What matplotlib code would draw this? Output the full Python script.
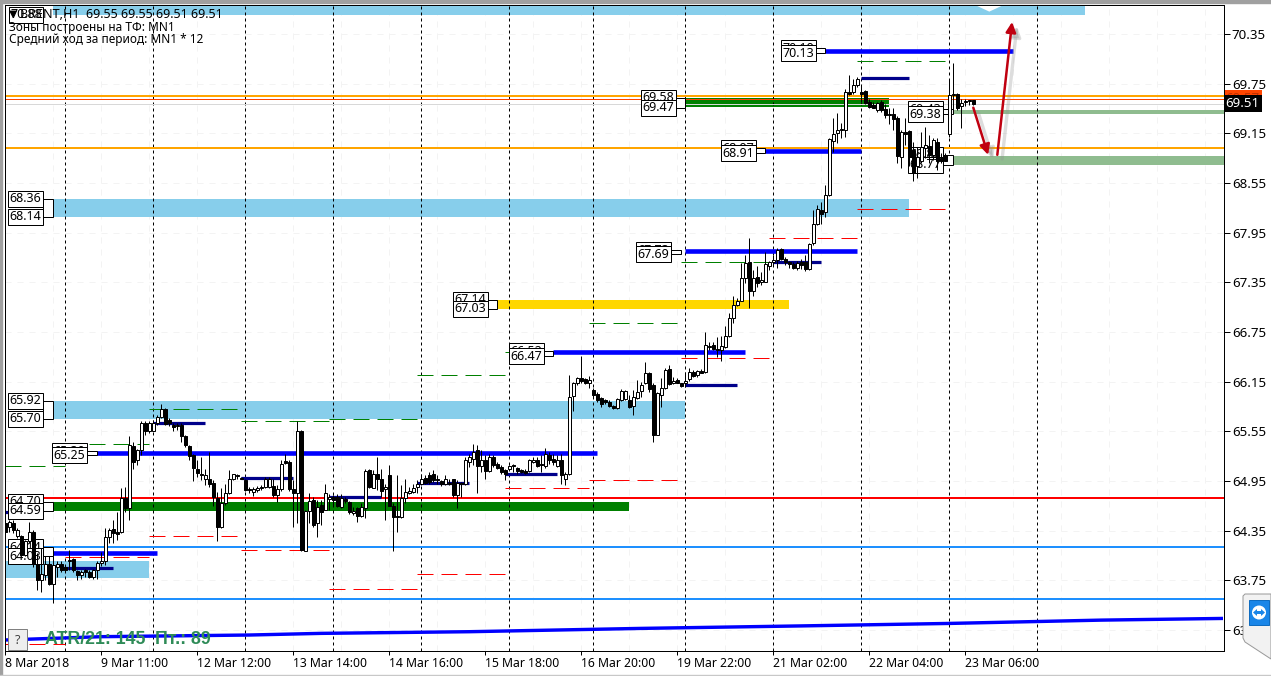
import matplotlib
matplotlib.use("Agg")
import matplotlib.pyplot as plt
from matplotlib.patches import Rectangle, Polygon, Ellipse
from matplotlib.transforms import blended_transform_factory

plt.rcParams['font.family'] = ['Noto Sans', 'DejaVu Sans']

# ---- candles (H1 OHLC) ----
opens = [64.44,64.39,64.44,64.29,64.29,64.06,64.22,64.34,63.95,63.76,63.82,63.95,63.71,63.91,63.95,63.91,63.99,64.01,63.86,63.82,
63.87,63.85,63.79,63.88,63.96,63.99,64.28,64.37,64.34,64.34,64.75,64.63,65.37,65.20,65.32,65.65,65.56,65.56,65.65,65.72,
65.82,65.69,65.63,65.61,65.63,65.49,65.37,65.26,65.10,65.04,64.97,64.97,64.93,64.75,64.40,64.68,64.80,64.98,65.02,64.99,
64.96,64.85,64.82,64.84,64.87,64.88,64.88,64.89,64.78,64.85,65.19,65.18,64.85,64.80,65.55,64.11,64.59,64.72,64.44,64.66,
64.60,64.73,64.76,64.76,64.64,64.73,64.70,64.56,64.62,64.53,64.63,65.08,64.87,65.04,64.98,64.85,65.02,64.65,64.52,64.51,
64.74,64.81,64.82,64.88,64.91,64.99,65.02,65.03,64.98,64.95,64.92,64.91,64.97,64.78,64.93,64.91,65.18,65.22,65.32,65.13,
65.20,65.07,65.24,65.15,65.12,65.08,65.09,65.14,65.11,65.08,65.07,65.07,65.18,65.20,65.15,65.13,65.26,65.22,65.13,65.20,
64.97,65.03,65.98,66.13,66.20,66.18,66.13,66.05,66.00,65.95,65.93,65.90,65.86,65.83,65.93,65.94,65.93,65.86,65.95,66.04,
66.13,66.25,66.11,65.50,65.99,66.07,66.30,66.14,66.17,66.13,66.13,66.18,66.27,66.23,66.28,66.27,66.57,66.59,66.55,66.53,
66.57,66.70,66.92,67.08,67.12,67.40,67.59,67.25,67.41,67.35,67.36,67.55,67.59,67.62,67.75,67.63,67.59,67.57,67.52,67.59,
67.60,67.51,67.82,68.06,68.22,68.20,68.40,69.06,69.15,69.19,69.19,69.65,69.65,69.73,69.65,69.66,69.53,69.49,69.43,69.53,
69.44,69.37,69.38,69.34,68.87,69.16,69.18,68.95,68.75,68.81,68.97,69.00,68.89,69.05,68.85,68.89,69.14,69.61,69.62,69.48,
69.54,69.54,69.55]
highs = [64.48,64.48,64.48,64.38,64.30,64.24,64.46,64.36,64.08,64.14,64.04,64.04,64.04,63.98,63.98,63.93,64.12,64.02,63.87,63.87,
63.89,63.87,63.89,63.99,64.09,64.38,64.38,64.48,64.58,64.86,64.88,65.49,65.42,65.34,65.67,65.67,65.67,65.69,65.75,65.88,
65.83,65.71,65.65,65.65,65.65,65.51,65.38,65.28,65.20,65.24,65.10,65.30,64.96,64.82,64.87,64.92,65.08,65.04,65.04,65.00,
64.98,64.88,64.88,64.89,64.90,65.00,65.00,64.98,64.90,65.20,65.28,65.20,64.96,65.67,65.57,64.60,64.80,64.76,64.72,64.72,
64.92,64.79,64.78,64.79,64.79,64.76,64.71,64.64,64.64,64.68,65.10,65.10,65.08,65.24,65.10,64.92,65.14,64.68,65.02,64.90,
64.98,64.88,64.92,64.96,65.04,65.02,65.06,65.08,65.02,64.96,65.02,64.98,64.98,64.96,64.94,65.24,65.28,65.40,65.38,65.32,
65.26,65.28,65.26,65.18,65.14,65.10,65.14,65.16,65.12,65.10,65.10,65.22,65.24,65.24,65.26,65.35,65.30,65.28,65.26,65.28,
65.06,66.23,66.15,66.21,66.46,66.20,66.22,66.07,66.03,65.96,65.94,65.93,65.87,65.95,66.06,66.05,65.99,66.05,66.17,66.15,
66.39,66.27,66.13,66.03,66.19,66.31,66.35,66.21,66.19,66.14,66.27,66.32,66.29,66.29,66.30,66.75,66.63,66.63,66.69,66.70,
66.82,66.98,67.18,67.16,67.58,67.68,67.88,67.50,67.55,67.48,67.72,67.61,67.68,67.76,67.77,67.66,67.61,67.60,67.61,67.63,
67.68,67.83,68.22,68.28,68.32,68.53,69.09,69.33,69.39,69.27,69.69,69.85,69.81,69.83,69.73,69.67,69.57,69.53,69.53,69.55,
69.51,69.45,69.46,69.36,69.19,69.33,69.19,69.05,68.99,69.17,69.23,69.13,69.09,69.09,68.91,68.91,69.79,70.00,69.64,69.57,
69.57,69.55,69.55]
lows = [64.24,64.34,64.32,64.26,64.04,64.04,64.20,63.91,63.63,63.61,63.75,63.69,63.48,63.79,63.85,63.85,63.87,63.85,63.75,63.77,
63.79,63.78,63.77,63.77,63.92,63.93,64.20,64.20,64.24,64.32,64.58,64.48,65.10,65.14,65.26,65.51,65.53,65.55,65.63,65.71,
65.63,65.61,65.55,65.57,65.42,65.36,65.20,64.95,65.00,64.96,64.90,64.88,64.65,64.22,64.38,64.66,64.79,64.96,64.97,64.97,
64.83,64.80,64.77,64.82,64.84,64.86,64.86,64.76,64.70,64.83,65.16,64.83,64.40,64.44,64.10,64.10,64.44,64.40,64.28,64.42,
64.60,64.60,64.66,64.64,64.63,64.68,64.55,64.54,64.46,64.51,64.50,64.87,64.86,64.84,64.76,64.48,64.65,64.11,64.33,64.50,
64.68,64.79,64.80,64.81,64.90,64.92,64.92,64.94,64.92,64.89,64.90,64.90,64.76,64.63,64.76,64.90,65.12,65.14,64.80,65.06,
64.98,65.06,65.12,65.10,65.04,64.96,65.08,65.06,65.04,65.05,65.04,65.06,65.17,65.12,65.06,65.11,65.16,65.14,65.12,64.91,
64.90,65.02,65.80,66.11,66.14,66.12,66.07,65.97,65.91,65.85,65.88,65.85,65.82,65.82,65.92,65.93,65.83,65.75,65.94,65.97,
66.12,66.03,65.42,65.50,65.85,66.06,66.11,66.12,66.13,66.09,66.08,66.16,66.21,66.21,66.25,66.26,66.53,66.53,66.45,66.40,
66.56,66.69,66.86,67.07,67.12,67.34,67.04,67.18,67.29,67.32,67.35,67.50,67.56,67.52,67.62,67.56,67.52,67.51,67.50,67.51,
67.49,67.50,67.80,68.04,68.06,68.14,68.39,68.93,69.03,69.09,69.11,69.61,69.63,69.71,69.53,69.51,69.46,69.45,69.41,69.41,
69.34,69.26,69.19,68.79,68.73,69.01,68.75,68.57,68.61,68.79,68.85,68.79,68.83,68.71,68.79,68.81,69.11,69.43,69.43,69.22,
69.48,69.49,69.49]
closes = [64.34,64.45,64.36,64.36,64.06,64.22,64.34,63.95,63.75,63.83,63.95,63.71,63.93,63.95,63.88,63.87,63.99,63.88,63.81,63.85,
63.85,63.79,63.88,63.96,63.99,64.28,64.36,64.32,64.31,64.74,64.63,65.38,65.18,65.32,65.65,65.55,65.65,65.65,65.72,65.82,
65.64,65.65,65.60,65.63,65.49,65.38,65.25,65.11,65.05,65.02,65.02,64.91,64.76,64.40,64.68,64.80,64.98,65.03,65.01,64.98,
64.84,64.84,64.85,64.87,64.87,64.97,64.98,64.78,64.85,65.16,65.17,64.85,64.81,65.55,64.12,64.59,64.71,64.42,64.64,64.58,
64.80,64.76,64.72,64.65,64.74,64.71,64.57,64.59,64.53,64.64,65.07,64.88,65.03,64.97,64.83,64.88,64.65,64.51,64.51,64.74,
64.82,64.83,64.86,64.92,64.97,64.93,64.94,64.96,64.96,64.91,64.97,64.93,64.78,64.93,64.92,65.20,65.24,65.30,65.13,65.20,
65.07,65.24,65.14,65.11,65.06,65.03,65.13,65.13,65.07,65.06,65.05,65.20,65.21,65.13,65.14,65.28,65.20,65.18,65.20,65.02,
65.04,65.96,66.14,66.19,66.16,66.13,66.17,65.99,65.93,65.88,65.90,65.86,65.83,65.94,66.04,66.04,65.85,65.96,66.03,66.11,
66.26,66.06,65.50,66.01,66.07,66.29,66.12,66.16,66.14,66.10,66.16,66.27,66.22,66.28,66.26,66.59,66.58,66.55,66.53,66.58,
66.70,66.92,67.08,67.12,67.40,67.58,67.24,67.40,67.34,67.38,67.57,67.59,67.62,67.74,67.63,67.59,67.57,67.52,67.58,67.56,
67.51,67.81,68.06,68.23,68.18,68.40,69.08,69.14,69.19,69.20,69.65,69.63,69.73,69.81,69.63,69.52,69.47,69.46,69.52,69.43,
69.37,69.37,69.32,68.88,69.16,69.14,68.86,68.67,68.87,68.98,69.01,68.89,69.07,68.81,68.81,68.82,69.61,69.63,69.45,69.52,
69.53,69.54,69.51]

# ---- time axis ----
tick_bars = [0, 24, 48, 72, 96, 120, 144, 168, 192, 216, 240]
tick_labels = ["8 Mar 2018", "9 Mar 11:00", "12 Mar 12:00", "13 Mar 14:00", "14 Mar 16:00", "15 Mar 18:00",
               "16 Mar 20:00", "19 Mar 22:00", "21 Mar 02:00", "22 Mar 04:00", "23 Mar 06:00"]
session_bars = [15, 37, 60, 82, 104, 126, 147, 170, 192, 214, 236, 258]
price_ticks = [70.35, 69.75, 69.15, 68.55, 67.95, 67.35, 66.75, 66.15, 65.55, 64.95, 64.35, 63.75, 63.15]

# ---- zones: (bar start, bar end, price top, price bottom) ----
sky_zones = [(12, 270, 70.72, 70.58), (12, 226, 68.36, 68.14), (12, 170, 65.92, 65.70), (0, 36, 63.99, 63.78)]
dark_green_zones = [(12, 156, 64.70, 64.59), (170, 221, 69.58, 69.47)]
gold_zones = [(123, 196, 67.14, 67.03)]
pale_green_zones = [(237, 304.7, 69.43, 69.38), (237, 304.7, 68.88, 68.77)]

# ---- level segments: (bar start, bar end, price) ----
blue_levels = [(205, 252, 70.15), (170, 213, 67.73), (137, 185, 66.51), (23, 148, 65.29), (12, 38, 64.08), (190, 214, 68.94)]
navy_levels = [(214, 226, 69.82), (170, 183, 66.11), (192, 204, 67.59), (125, 138, 65.03), (103, 116, 64.93),
               (81, 94, 64.76), (59, 72, 64.99), (37, 50, 65.65), (14, 27, 63.90), (0, 5, 64.57)]
green_dashes = [(0, 15, 65.13), (15, 36, 65.40), (36, 59, 65.82), (59, 81, 65.67), (81, 103, 65.70), (103, 125, 66.23),
                (125, 146, 66.51), (146, 168, 66.86), (169, 191, 67.59), (191, 214, 68.92), (213, 236, 70.02)]
red_dashes = [(0, 15, 62.98), (15, 36, 64.03), (36, 59, 64.29), (59, 81, 64.12), (81, 103, 63.65), (103, 125, 63.83),
              (125, 146, 64.87), (146, 168, 64.96), (169, 191, 66.44), (191, 213, 67.89), (213, 236, 68.24)]

# ---- full-width lines ----
red_line = [64.74]
azure_lines = [64.15, 63.53]
orange_lines = [69.60, 68.97]
ask_price = 69.56
bid_price = 69.51

# ---- boxed labels: (upper text, upper price, lower text, lower price, box right bar, level start bar) ----
label_pairs = [("70.19", 70.18, "70.13", 70.12, 202.7, 205),
               ("68.36", 68.36, "68.14", 68.14, 9.4, 12),
               ("65.92", 65.92, "65.70", 65.70, 9.4, 12),
               ("65.30", 65.31, "65.25", 65.26, 20.4, 23),
               ("64.70", 64.70, "64.59", 64.59, 9.4, 12),
               ("64.14", 64.15, "64.03", 64.04, 9.4, 12),
               ("69.58", 69.58, "69.47", 69.46, 167.7, 170),
               ("68.97", 68.97, "68.91", 68.91, 187.7, 190),
               ("67.14", 67.14, "67.03", 67.03, 120.7, 123),
               ("66.52", 66.52, "66.47", 66.46, 134.7, 137),
               ("67.73", 67.74, "67.69", 67.69, 166.4, 169),
               ("69.43", 69.44, "69.38", 69.38, 234.4, 237),
               ("68.88", 68.89, "68.77", 68.77, 234.4, 237)]

# ---- long moving average: bar, price ----
ma_bars = [0, 24, 61, 79, 116, 159, 199, 236, 274, 304]
ma_prices = [63.03, 63.07, 63.09, 63.11, 63.13, 63.17, 63.20, 63.23, 63.27, 63.29]

# ---- forecast arrows: ((bar, price) from, (bar, price) to) ----
arrows = [((242, 69.46), (245.7, 68.89)), ((248, 68.89), (251.7, 70.495))]

# ---- header text ----
header_lines = ["BRENT,H1  69.55 69.55 69.51 69.51", "Зоны построены на ТФ: MN1", "Средний ход за период: MN1 * 12"]
atr_text = "ATR/21: 145  Пт.: 89"

W, H = 1271, 676
fig = plt.figure(figsize=(W / 100, H / 100), dpi=100, facecolor="white")
ax = fig.add_axes([5 / W, (H - 650.5) / H, 1218.5 / W, 645.5 / H])
ax.set_xlim(-0.08, 304.55)
ax.set_ylim(62.903, 70.70)
PX = 0.72


def figpx(x, y):
    return x / W, 1 - y / H


# window edge
fig.add_artist(Rectangle((0, 1 - 3 / H), 1, 3 / H, transform=fig.transFigure, color="#a0a0a0"))
fig.add_artist(Rectangle((0, 0), 2 / W, 1, transform=fig.transFigure, color="#a0a0a0"))
fig.add_artist(Rectangle((0, 0), 1, 1 / H, transform=fig.transFigure, color="#c8c8c8"))

# faint grid
for b in range(12, 305, 12):
    ax.axvline(b, color="#f3f3f3", lw=PX, ls=(0, (6, 6)), zorder=0)
for p in price_ticks:
    ax.axhline(p, color="#f3f3f3", lw=PX, ls=(0, (6, 6)), zorder=0)

for x0, x1, t, b in sky_zones:
    ax.add_patch(Rectangle((x0, b), x1 - x0, t - b, color="#87CEEB", lw=0, zorder=1))
for x0, x1, t, b in dark_green_zones:
    ax.add_patch(Rectangle((x0, b), x1 - x0, t - b, color="#008000", lw=0, zorder=1))
for x0, x1, t, b in gold_zones:
    ax.add_patch(Rectangle((x0, b), x1 - x0, t - b, color="#FFD700", lw=0, zorder=1))
for x0, x1, t, b in pale_green_zones:
    ax.add_patch(Rectangle((x0, b), x1 - x0, t - b, color="#8FBC8F", lw=0, zorder=1))
# small notch in the top zone
ax.add_patch(Polygon([(242, 70.71), (246, 70.62), (250, 70.71)], color="white", lw=0, zorder=1.1))

for b in session_bars:
    ax.axvline(b, color="black", lw=PX, ls=(0, (3, 3)), zorder=1.5)

ax.axhline(red_line[0], color="#FF0000", lw=2 * PX, zorder=2)
for p in azure_lines:
    ax.axhline(p, color="#1E90FF", lw=2 * PX, zorder=2)
for p in orange_lines:
    ax.axhline(p, color="#FFA500", lw=2 * PX, zorder=2)
ax.axhline(ask_price, color="#FF4500", lw=PX, zorder=2)
ax.axhline(bid_price, color="#d8d8d8", lw=PX, zorder=2)

for x0, x1, p in green_dashes:
    ax.plot([x0, x1], [p, p], color="#008000", lw=PX, ls=(0, (16, 8)), zorder=2.2)
for x0, x1, p in red_dashes:
    ax.plot([x0, x1], [p, p], color="#FF0000", lw=PX, ls=(0, (16, 8)), zorder=2.2)

for x0, x1, p in blue_levels:
    ax.plot([x0, x1], [p, p], color="#0000FF", lw=4.6 * PX, zorder=2.5, solid_capstyle="butt")
for x0, x1, p in navy_levels:
    ax.plot([x0, x1], [p, p], color="#00008B", lw=3.2 * PX, zorder=2.5, solid_capstyle="butt")

ax.plot(ma_bars, ma_prices, color="#0000FF", lw=3.4 * PX, zorder=2.5)

# boxed labels (candles pass over them)
for up_t, up_p, lo_t, lo_p, right, start in label_pairs:
    ax.add_patch(Rectangle((right, lo_p), start - right, up_p - lo_p, facecolor="white", edgecolor="black",
                           lw=PX, zorder=2.7))
    for txt, pr, zo in ((up_t, up_p, 2.8), (lo_t, lo_p, 2.9)):
        ax.text(right - 0.45, pr, txt, ha="right", va="center", fontsize=9.0, color="black", zorder=zo,
                bbox=dict(boxstyle="square,pad=0.12", facecolor="white", edgecolor="black", lw=PX))

# candles
bars_x = list(range(len(opens)))
ax.vlines(bars_x, lows, highs, color="black", lw=PX, zorder=3)
for x, o, c in zip(bars_x, opens, closes):
    up = c >= o
    ax.add_patch(Rectangle((x - 0.3, min(o, c)), 0.6, max(abs(c - o), 0.012),
                           facecolor="white" if up else "black", edgecolor="black", lw=PX, zorder=3.1))

# arrows with soft shadow
for (a, b) in arrows:
    ax.annotate("", xy=(b[0] + 1.2, b[1] - 0.05), xytext=(a[0] + 1.2, a[1] - 0.05), zorder=3.3,
                arrowprops=dict(arrowstyle="-|>", color="#909090", alpha=0.3, lw=2.4, mutation_scale=15,
                                shrinkA=0, shrinkB=0))
    ax.annotate("", xy=b, xytext=a, zorder=3.4,
                arrowprops=dict(arrowstyle="-|>", color="#C00010", lw=1.8, mutation_scale=15,
                                shrinkA=0, shrinkB=0))

# header (placed in figure pixels)
ftr = fig.transFigure
fig.text(*figpx(26, 15), "70.88", ha="center", va="center", fontsize=9.0, color="black", zorder=4,
         bbox=dict(boxstyle="square,pad=0.12", facecolor="white", edgecolor="black", lw=PX))
fig.text(*figpx(9, 14), "▼", ha="left", va="center", fontsize=7.5, color="black", zorder=5, family="DejaVu Sans")
fig.text(*figpx(20, 14), header_lines[0], ha="left", va="center", fontsize=9.0, color="black", zorder=5)
fig.text(*figpx(9, 28), header_lines[1], ha="left", va="center", fontsize=8.5, color="black", zorder=5)
fig.text(*figpx(9, 40), header_lines[2], ha="left", va="center", fontsize=8.5, color="black", zorder=5)

# "?" button and ATR text
fig.add_artist(Rectangle(figpx(8, 650), 19 / W, 21 / H, transform=ftr, facecolor="#eeeeee",
                         edgecolor="#808080", lw=PX, zorder=0.5))
fig.text(*figpx(17.5, 640), "?", ha="center", va="center", fontsize=9, color="#404040", zorder=0.6)
fig.text(*figpx(45, 640), atr_text, ha="left", va="center", fontsize=12.8, fontweight="bold", color="#2E8B57",
         family="Liberation Sans", zorder=5)

# axes
ax.yaxis.tick_right()
ax.set_yticks(price_ticks)
ax.set_yticklabels([f"{p:.2f}" for p in price_ticks], fontsize=9.6)
ax.tick_params(axis="y", length=4, width=PX, pad=2, color="black")
ax.set_xticks(tick_bars)
ax.set_xticklabels(tick_labels, fontsize=8.8, ha="left")
ax.tick_params(axis="x", length=3, width=PX, pad=2, color="black")
for s in ax.spines.values():
    s.set_linewidth(PX)
    s.set_color("black")
    s.set_zorder(8)

# price tags on the scale
btr = blended_transform_factory(ax.transAxes, ax.transData)
ax.text(1.0018, 69.57, "69.57", transform=btr, ha="left", va="center", fontsize=9.6, color="#c03000", clip_on=False,
        zorder=6, bbox=dict(boxstyle="square,pad=0.15", facecolor="#FF4500", edgecolor="none"))
ax.text(1.0018, bid_price, f"{bid_price:.2f}", transform=btr, ha="left", va="center", fontsize=9.6, color="white",
        clip_on=False, zorder=7, bbox=dict(boxstyle="square,pad=0.15", facecolor="black", edgecolor="none"))

# remote-desktop side tab over the right scale
fig.add_artist(Polygon([figpx(1243, 596), figpx(1245, 594), figpx(1271, 594), figpx(1271, 659),
                        figpx(1245, 642), figpx(1243, 638)], closed=True, transform=ftr,
                       facecolor="#f2f2f2", edgecolor="#9a9a9a", lw=PX, zorder=9))
fig.add_artist(Rectangle(figpx(1249, 625), 20 / W, 25 / H, transform=ftr, facecolor="#1a86e8",
                         edgecolor="#0f6cc0", lw=PX, zorder=9.1))
fig.add_artist(Ellipse(figpx(1259, 612.5), 14 / W, 14 / H, transform=ftr, facecolor="white", edgecolor="none",
                       zorder=9.2))
fig.add_artist(Polygon([figpx(1253, 612.5), figpx(1257, 609), figpx(1257, 611), figpx(1261, 611), figpx(1261, 609),
                        figpx(1265, 612.5), figpx(1261, 616), figpx(1261, 614), figpx(1257, 614), figpx(1257, 616)],
                       closed=True, transform=ftr, facecolor="#1a86e8", edgecolor="none", zorder=9.3))

fig.savefig("out.png", dpi=100, facecolor="white")
